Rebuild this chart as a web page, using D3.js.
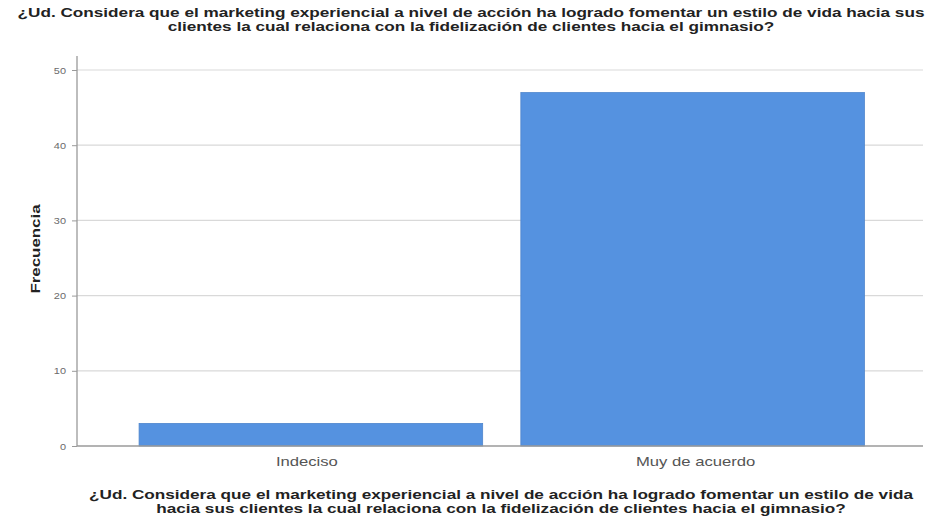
<!DOCTYPE html>
<html>
<head>
<meta charset="utf-8">
<script src="https://cdn.jsdelivr.net/npm/d3@7"></script>
<style>
  html, body { margin: 0; padding: 0; background: #fff; }
  svg { display: block; }
</style>
</head>
<body>
<svg id="chart" width="936" height="527"></svg>
<script>
// Survey answers and their frequencies
const categories = ["Indeciso", "Muy de acuerdo"];
const frequencies = [3, 47];
const yTicks = [0, 10, 20, 30, 40, 50];
const titleLines = [
  "¿Ud. Considera que el marketing experiencial a nivel de acción ha logrado fomentar un estilo de vida hacia sus",
  "clientes la cual relaciona con la fidelización de clientes hacia el gimnasio?"
];
const xTitleLines = [
  "¿Ud. Considera que el marketing experiencial a nivel de acción ha logrado fomentar un estilo de vida",
  "hacia sus clientes la cual relaciona con la fidelización de clientes hacia el gimnasio?"
];
const yTitle = "Frecuencia";

const FONT = "Liberation Sans, Arial, sans-serif";
const svg = d3.select("#chart");
const plot = { left: 77, right: 923, top: 56, bottom: 446 };

const y = d3.scaleLinear().domain([0, 50]).range([446, 70]);
const x = d3.scaleBand().domain(categories).range([120, 883.5])
  .paddingInner(0.1).paddingOuter(0.05);

// Widen a text element by a factor (the lettering is set wide)
function widen(sel, factor) {
  sel.each(function () {
    const len = this.getComputedTextLength();
    d3.select(this).attr("textLength", len * factor).attr("lengthAdjust", "spacingAndGlyphs");
  });
}

// Horizontal gridlines
svg.append("g")
  .selectAll("line")
  .data(yTicks.filter(d => d > 0))
  .join("line")
  .attr("x1", plot.left).attr("x2", plot.right)
  .attr("y1", d => y(d)).attr("y2", d => y(d))
  .attr("stroke", "#d9d9d9").attr("stroke-width", 1.2);

// Bars
svg.append("g")
  .selectAll("rect")
  .data(categories.map((c, i) => ({ c, v: frequencies[i] })))
  .join("rect")
  .attr("x", d => x(d.c))
  .attr("width", x.bandwidth())
  .attr("y", d => y(d.v))
  .attr("height", d => y(0) - y(d.v))
  .attr("fill", "#5592e0")
  .attr("stroke", "#4f86cc")
  .attr("stroke-width", 0.8);

// Y axis
const yAxis = svg.append("g")
  .attr("transform", `translate(${plot.left},0)`)
  .call(d3.axisLeft(y).tickValues(yTicks).tickSize(5).tickPadding(6));
yAxis.select(".domain").attr("stroke", "#9a9a9a").attr("stroke-width", 1.3)
  .attr("d", `M0,${plot.top}V${y(0)}`);
yAxis.selectAll(".tick line").attr("stroke", "#9a9a9a");
yAxis.selectAll(".tick text")
  .attr("font-family", FONT)
  .attr("font-size", 9.5).attr("fill", "#6a6a6a")
  .call(widen, 1.15);

// X axis
const xAxis = svg.append("g")
  .attr("transform", `translate(0,${y(0)})`)
  .call(d3.axisBottom(x).tickSize(0).tickPadding(11));
xAxis.select(".domain").attr("stroke", "#9a9a9a").attr("stroke-width", 1.3)
  .attr("d", `M${plot.left},0H${plot.right}`);
xAxis.selectAll(".tick text")
  .attr("font-family", FONT)
  .attr("font-size", 13).attr("fill", "#555")
  .attr("dx", (d, i) => i === 0 ? -4 : 3)
  .call(widen, 1.28);

// Y axis title
svg.append("text")
  .attr("transform", "translate(40,249) rotate(-90)")
  .attr("text-anchor", "middle")
  .attr("font-family", FONT)
  .attr("font-size", 13).attr("font-weight", "bold").attr("fill", "#222")
  .text(yTitle)
  .call(widen, 1.3);

// Chart title
svg.append("g").selectAll("text")
  .data(titleLines)
  .join("text")
  .attr("x", 471).attr("y", (d, i) => 17 + i * 13.5)
  .attr("text-anchor", "middle")
  .attr("font-family", FONT)
  .attr("font-size", 13).attr("font-weight", "bold").attr("fill", "#222")
  .text(d => d)
  .call(widen, 1.32);

// X axis title
svg.append("g").selectAll("text")
  .data(xTitleLines)
  .join("text")
  .attr("x", 501).attr("y", (d, i) => 499 + i * 14)
  .attr("text-anchor", "middle")
  .attr("font-family", FONT)
  .attr("font-size", 13).attr("font-weight", "bold").attr("fill", "#222")
  .text(d => d)
  .call(widen, 1.32);
</script>
</body>
</html>
